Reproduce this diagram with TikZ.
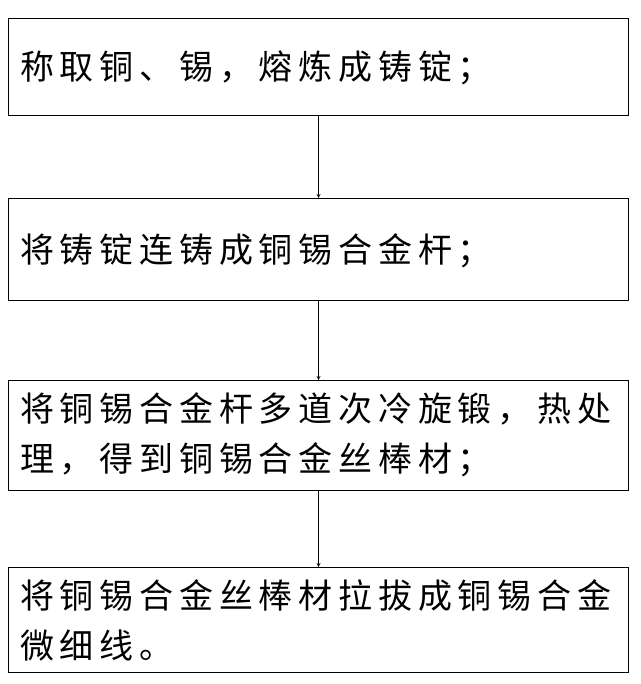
\documentclass[tikz,border=0pt]{standalone}
\usepackage{fontspec}
\newfontfamily\cjk[LetterSpace=17]{Noto Sans CJK SC}
\begin{document}
\begin{tikzpicture}[x=1pt,y=-1pt,
  boxst/.style={draw,line width=1.2pt,minimum width=620pt,anchor=north west,inner sep=0pt},
  txt/.style={anchor=west,inner sep=0pt,font=\cjk\fontsize{34}{50}\selectfont,align=left},
  arr/.style={-stealth,line width=0.8pt}]
\useasboundingbox (0,0) rectangle (640,684);
\node[boxst,minimum height=97pt] (b1) at (8,18) {};
\node[boxst,minimum height=102pt] (b2) at (8,198) {};
\node[boxst,minimum height=110pt] (b3) at (8,380) {};
\node[boxst,minimum height=105pt] (b4) at (8,567) {};
\node[txt] (t1) at (20,68) {称取铜、锡，熔炼成铸锭；};
\node[txt] (t2) at (20,251) {将铸锭连铸成铜锡合金杆；};
\node[txt] (t3) at (20,435) {将铜锡合金杆多道次冷旋锻，热处\\理，得到铜锡合金丝棒材；};
\node[txt] (t4) at (20,620) {将铜锡合金丝棒材拉拔成铜锡合金\\微细线。};
\draw[arr] (b1.south) -- (b2.north);
\draw[arr] (b2.south) -- (b3.north);
\draw[arr] (b3.south) -- (b4.north);
\end{tikzpicture}
\end{document}
